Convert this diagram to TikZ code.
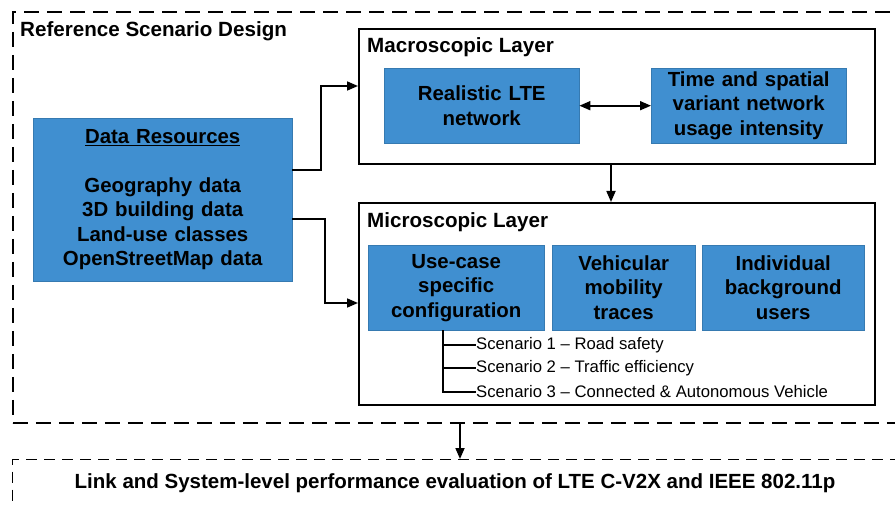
\documentclass[tikz,border=0pt]{standalone}
\usepackage{fontspec}
\setmainfont{Liberation Sans}
\usetikzlibrary{arrows.meta}
\definecolor{boxblue}{RGB}{64,143,208}
\begin{document}
\begin{tikzpicture}[x=1pt,y=-1pt,
  bluebox/.style={fill=boxblue,draw=boxblue!85!black,line width=0.4pt,align=center,
    font=\fontsize{20.4}{24.5}\selectfont\bfseries,inner sep=0pt,anchor=north west},
  layerbox/.style={draw=black,line width=1.8pt,inner sep=0pt,anchor=north west,fill=white},
  dashbox/.style={draw=black,line width=1.8pt,dash pattern=on 15pt off 8pt,inner sep=0pt,anchor=north west},
  lbl/.style={font=\fontsize{20.6}{24}\selectfont\bfseries,anchor=west,inner sep=0pt},
  scen/.style={font=\fontsize{16.7}{20}\selectfont,anchor=west,inner sep=0pt},
  arr/.style={line width=1.7pt,-{Triangle[length=11pt,width=9pt]}},
  darr/.style={line width=1.7pt,{Triangle[length=11pt,width=9pt]}-{Triangle[length=11pt,width=9pt]}},
  tree/.style={line width=1.4pt}]
\useasboundingbox (0,0) rectangle (895,505);
\fill[white] (0,0) rectangle (895,505);
% outer dashed box
\node[dashbox,minimum width=900pt,minimum height=411pt] (outer) at (12,11) {};
\node[lbl] (title) at (20,31) {Reference Scenario Design};
% bottom dashed box
\node[dashbox,minimum width=900pt,minimum height=60pt,dash pattern=on 11pt off 7pt,line width=1.4pt] (eval) at (12,459) {};
\node[font=\fontsize{20.5}{24}\selectfont\bfseries,inner sep=0pt] (evaltxt) at (455,483) {Link and System-level performance evaluation of LTE C-V2X and IEEE 802.11p};
% layers
\node[layerbox,minimum width=516pt,minimum height=135pt] (macro) at (358,28) {};
\node[lbl] (macrolbl) at (367,47) {Macroscopic Layer};
\node[layerbox,minimum width=516pt,minimum height=202pt] (micro) at (358,202) {};
\node[lbl] (microlbl) at (367,222) {Microscopic Layer};
% blue boxes
\node[bluebox,minimum width=259pt,minimum height=163pt,text width=259pt] (data) at (33,118)
  {\underline{Data Resources}\\[24.5pt]Geography data\\3D building data\\Land-use classes\\OpenStreetMap data};
\node[bluebox,minimum width=195pt,minimum height=75pt,text width=195pt] (lte) at (384,68) {Realistic LTE\\network};
\node[bluebox,minimum width=195pt,minimum height=75pt,text width=195pt] (tsv) at (651,68) {Time and spatial\\variant network\\usage intensity};
\node[bluebox,minimum width=176pt,minimum height=85pt,text width=176pt] (use) at (368,245) {Use-case\\specific\\configuration};
\node[bluebox,minimum width=143pt,minimum height=85pt,text width=143pt] (veh) at (552,245) {Vehicular\\mobility\\traces};
\node[bluebox,minimum width=162pt,minimum height=85pt,text width=162pt] (ind) at (702,245) {Individual\\background\\users};
% connectors
\draw[darr] (lte.east) -- (tsv.west);
\draw[arr] (macro.south -| 611,0) -- (micro.north -| 611,0);
\draw[arr] (data.east |- 0,170) -| (321,86) -- (macro.west |- 0,86);
\draw[arr] (data.east |- 0,219) -| (325,303) -- (micro.west |- 0,303);
\draw[arr] (outer.south -| 460,0) -- (eval.north -| 460,0);
% scenarios
\node[scen] (s1) at (476,345) {Scenario 1 – Road safety};
\node[scen] (s2) at (476,368) {Scenario 2 – Traffic efficiency};
\node[scen] (s3) at (476,392) {Scenario 3 – Connected \& Autonomous Vehicle};
\draw[tree] (use.south -| 443,0) |- (s3.west);
\draw[tree] (443,345) -- (s1.west);
\draw[tree] (443,368) -- (s2.west);
\end{tikzpicture}
\end{document}
